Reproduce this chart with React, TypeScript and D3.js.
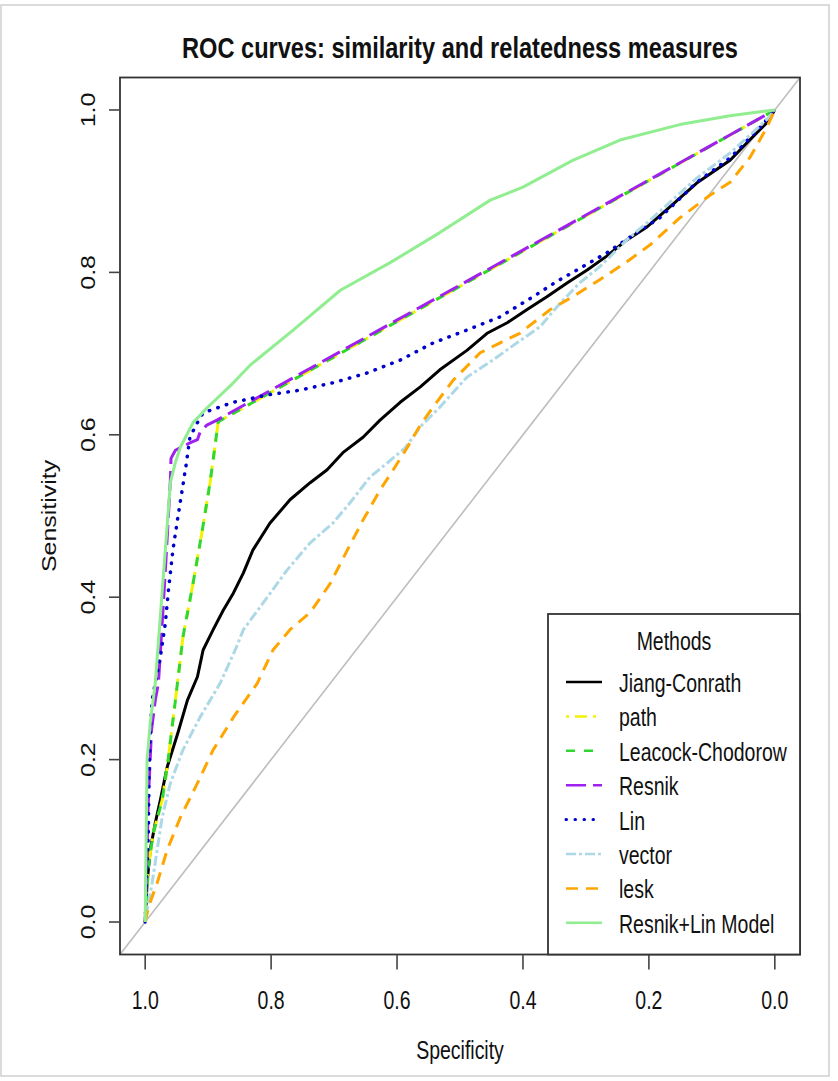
import React from 'react';
import * as d3 from 'd3';

// the source image is stretched vertically, so text gets the same stretch
const W = 838;
const H = 1081;
const SY = 1.28;
const FONT = '"Liberation Sans", Arial, Helvetica, sans-serif';

const xTicks = [1.0, 0.8, 0.6, 0.4, 0.2, 0.0];
const yTicks = [0.0, 0.2, 0.4, 0.6, 0.8, 1.0];
const methods = ['Jiang-Conrath', 'path', 'Leacock-Chodorow', 'Resnik', 'Lin', 'vector', 'lesk', 'Resnik+Lin Model'];

// [specificity, sensitivity]
const jiangConrath = [[1, 0], [0.997, 0.048], [0.992, 0.089], [0.984, 0.122], [0.976, 0.15], [0.965, 0.191], [0.948, 0.233], [0.933, 0.273], [0.917, 0.302], [0.908, 0.335], [0.892, 0.36], [0.876, 0.384], [0.86, 0.405], [0.844, 0.43], [0.829, 0.458], [0.802, 0.491], [0.77, 0.52], [0.738, 0.541], [0.711, 0.557], [0.686, 0.578], [0.654, 0.597], [0.627, 0.618], [0.595, 0.64], [0.563, 0.659], [0.532, 0.68], [0.489, 0.704], [0.457, 0.725], [0.425, 0.738], [0.394, 0.754], [0.362, 0.77], [0.33, 0.787], [0.298, 0.803], [0.267, 0.82], [0.235, 0.84], [0.203, 0.856], [0.163, 0.883], [0.124, 0.91], [0.071, 0.938], [0.04, 0.963], [0.013, 0.984], [0, 1]];
const path = [[1, 0], [0.995, 0.068], [0.987, 0.11], [0.973, 0.15], [0.965, 0.191], [0.952, 0.273], [0.94, 0.351], [0.924, 0.417], [0.91, 0.479], [0.897, 0.541], [0.89, 0.581], [0.884, 0.616], [0, 1]];
const leacockChodorow = [[1, 0], [0.995, 0.068], [0.987, 0.11], [0.973, 0.15], [0.965, 0.191], [0.952, 0.273], [0.94, 0.351], [0.924, 0.417], [0.91, 0.479], [0.897, 0.541], [0.89, 0.581], [0.884, 0.616], [0, 1]];
const resnik = [[1, 0], [0.995, 0.15], [0.99, 0.236], [0.984, 0.273], [0.979, 0.294], [0.973, 0.368], [0.967, 0.446], [0.96, 0.544], [0.959, 0.571], [0.952, 0.581], [0.929, 0.59], [0.917, 0.594], [0.913, 0.603], [0.902, 0.612], [0.886, 0.618], [0, 1]];
const lin = [[1, 0], [0.997, 0.068], [0.995, 0.11], [0.994, 0.171], [0.992, 0.233], [0.989, 0.273], [0.984, 0.294], [0.976, 0.326], [0.968, 0.368], [0.963, 0.409], [0.956, 0.458], [0.948, 0.499], [0.94, 0.538], [0.935, 0.563], [0.929, 0.597], [0.917, 0.615], [0.908, 0.627], [0.86, 0.64], [0.806, 0.649], [0.754, 0.655], [0.702, 0.664], [0.648, 0.676], [0.595, 0.692], [0.543, 0.713], [0.489, 0.729], [0.437, 0.745], [0.384, 0.77], [0.346, 0.789], [0.305, 0.807], [0.267, 0.824], [0.225, 0.846], [0.183, 0.867], [0.124, 0.911], [0.071, 0.941], [0.024, 0.978], [0, 1]];
const vector = [[1, 0], [0.989, 0.048], [0.981, 0.089], [0.973, 0.129], [0.96, 0.171], [0.94, 0.212], [0.913, 0.252], [0.881, 0.294], [0.857, 0.335], [0.844, 0.36], [0.806, 0.4], [0.775, 0.433], [0.738, 0.467], [0.702, 0.491], [0.675, 0.516], [0.643, 0.548], [0.616, 0.565], [0.587, 0.584], [0.563, 0.61], [0.532, 0.634], [0.489, 0.671], [0.448, 0.692], [0.41, 0.713], [0.373, 0.733], [0.341, 0.762], [0.31, 0.787], [0.278, 0.807], [0.235, 0.84], [0.203, 0.861], [0.163, 0.889], [0.124, 0.916], [0.071, 0.947], [0.013, 0.988], [0, 1]];
const lesk = [[1, 0], [0.995, 0.018], [0.981, 0.048], [0.965, 0.089], [0.944, 0.129], [0.917, 0.171], [0.892, 0.212], [0.86, 0.252], [0.822, 0.294], [0.797, 0.335], [0.77, 0.36], [0.738, 0.381], [0.706, 0.417], [0.679, 0.458], [0.654, 0.495], [0.627, 0.532], [0.606, 0.557], [0.584, 0.584], [0.563, 0.612], [0.543, 0.634], [0.511, 0.667], [0.468, 0.701], [0.437, 0.713], [0.405, 0.725], [0.357, 0.754], [0.321, 0.77], [0.278, 0.791], [0.235, 0.813], [0.198, 0.834], [0.151, 0.867], [0.103, 0.895], [0.071, 0.911], [0.04, 0.941], [0.013, 0.978], [0, 1]];
const resnikLinModel = [[1, 0], [0.997, 0.2], [0.992, 0.245], [0.984, 0.294], [0.976, 0.376], [0.968, 0.458], [0.96, 0.541], [0.952, 0.566], [0.944, 0.585], [0.924, 0.615], [0.902, 0.633], [0.86, 0.664], [0.833, 0.686], [0.765, 0.729], [0.69, 0.778], [0.611, 0.812], [0.532, 0.849], [0.452, 0.889], [0.4, 0.905], [0.321, 0.938], [0.246, 0.963], [0.151, 0.982], [0.071, 0.993], [0, 1]];

const curves = [jiangConrath, path, leacockChodorow, resnik, lin, vector, lesk, resnikLinModel];
const styles = [
  { color: '#000000', dash: null, width: 3, cap: 'butt' },
  { color: '#f2f200', dash: '3,6,12,6', width: 3, cap: 'butt' },
  { color: '#2fd82f', dash: '9,9', width: 3, cap: 'butt' },
  { color: '#a020f0', dash: '20,7', width: 3, cap: 'butt' },
  { color: '#0000cd', dash: '0.5,8.5', width: 3.5, cap: 'round' },
  { color: '#add8e6', dash: '10,3,3,3', width: 3, cap: 'butt' },
  { color: '#ffa500', dash: '12,8', width: 3, cap: 'butt' },
  { color: '#90ee90', dash: null, width: 3, cap: 'butt' },
];

const margin = { left: 120, right: 38, top: 77.5, bottom: 126.5 };

const Txt = ({ x, y, size = 19.5, weight = 'normal', anchor = 'middle', rotate = false, children }) => (
  <g transform={`translate(${x},${y}) scale(1,${SY})${rotate ? ' rotate(-90)' : ''}`}>
    <text textAnchor={anchor} fontSize={size} fontWeight={weight} fontFamily={FONT} fill="#111">
      {children}
    </text>
  </g>
);

export default function App() {
  const x = d3.scaleLinear().domain([1.04, -0.04]).range([margin.left, W - margin.right]);
  const y = d3.scaleLinear().domain([-0.04, 1.04]).range([H - margin.bottom, margin.top]);
  const line = d3.line().x(d => x(d[0])).y(d => y(d[1]));

  const [x0, x1] = x.range();
  const [y0, y1] = y.range();
  const cx = (x0 + x1) / 2;

  // legend box
  const lg = { left: 548, top: 614, right: x1, bottom: y0 };
  const rowY = (i) => 682 + i * 34.4;

  return (
    <svg width={W} height={H} style={{ position: 'absolute', left: 0, top: 0, display: 'block', background: '#fff' }}>
      <rect x={1} y={5} width={828} height={1071} fill="none" stroke="#cfcfcf" strokeWidth={1.5} />

      <Txt x={cx} y={58} size={23.6} weight="bold">ROC curves: similarity and relatedness measures</Txt>

      {/* diagonal */}
      <line x1={x0} y1={y0} x2={x1} y2={y1} stroke="#bdbdbd" strokeWidth={1.6} />

      {curves.map((c, i) => (
        <path key={methods[i]} d={line(c)} fill="none" stroke={styles[i].color} strokeWidth={styles[i].width}
          strokeDasharray={styles[i].dash || undefined} strokeLinecap={styles[i].cap} strokeLinejoin="round" />
      ))}

      {/* box */}
      <rect x={x0} y={y1} width={x1 - x0} height={y0 - y1} fill="none" stroke="#333" strokeWidth={1.8} />

      {/* y axis */}
      {yTicks.map(t => (
        <g key={'y' + t}>
          <line x1={x0 - 11} x2={x0} y1={y(t)} y2={y(t)} stroke="#444" strokeWidth={1.6} />
          <Txt x={95} y={y(t)} rotate>{t.toFixed(1)}</Txt>
        </g>
      ))}
      <Txt x={56} y={(y0 + y1) / 2} rotate>Sensitivity</Txt>

      {/* x axis */}
      {xTicks.map(t => (
        <g key={'x' + t}>
          <line x1={x(t)} x2={x(t)} y1={y0} y2={y0 + 15} stroke="#444" strokeWidth={1.6} />
          <Txt x={x(t)} y={1009}>{t.toFixed(1)}</Txt>
        </g>
      ))}
      <Txt x={cx} y={1059}>Specificity</Txt>

      {/* legend */}
      <rect x={lg.left} y={lg.top} width={lg.right - lg.left} height={lg.bottom - lg.top} fill="#fff" stroke="#333" strokeWidth={1.8} />
      <Txt x={(lg.left + lg.right) / 2} y={650}>Methods</Txt>
      {methods.map((m, i) => (
        <g key={'lg' + m}>
          <line x1={566} x2={602} y1={rowY(i)} y2={rowY(i)} stroke={styles[i].color} strokeWidth={styles[i].width - 0.5}
            strokeDasharray={styles[i].dash || undefined} strokeLinecap={styles[i].cap} />
          <Txt x={619} y={rowY(i) + 10} anchor="start">{m}</Txt>
        </g>
      ))}
    </svg>
  );
}
